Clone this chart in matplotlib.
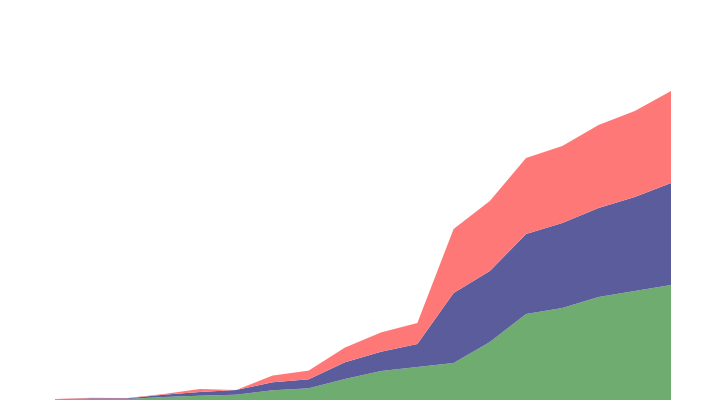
import numpy as np
import matplotlib
matplotlib.use("Agg")
import matplotlib.pyplot as plt

# values (stacked, bottom to top)
steps = list(range(18))
green = [0.3, 1, 1, 3, 4.3, 5.3, 9.7, 11.7, 21, 29, 33, 37, 58, 86, 92, 103, 109, 115]
blue = [0.4, 0.7, 0.7, 2.3, 3.7, 4.7, 8, 9, 16.7, 19.3, 23, 70, 71, 80, 85, 89, 94, 102]
red = [0.3, 0.5, 0.3, 0.7, 3, 0, 6.7, 8.7, 14.7, 19.3, 21, 64, 70, 76, 77, 83, 86, 92]

colors = ["#6fac6f", "#5b5c9b", "#ff7878"]

fig = plt.figure(figsize=(7.26, 4), dpi=100)
ax = fig.add_axes([0, 0, 1, 1])
ax.stackplot(steps, green, blue, red, colors=colors, linewidth=0)

step_px = 616 / 17
ax.set_xlim(-55 / step_px, (726 - 55) / step_px)
ax.set_ylim(0, 400)
ax.axis("off")

fig.savefig("out.png", dpi=100)
